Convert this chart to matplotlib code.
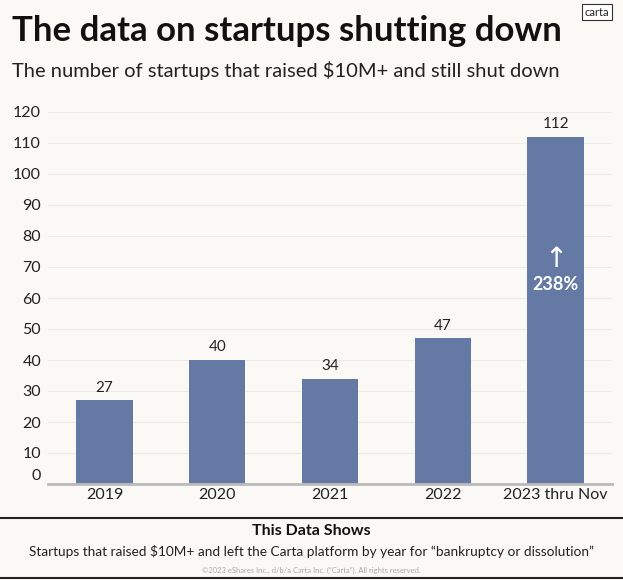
import matplotlib
matplotlib.use("Agg")
import matplotlib.pyplot as plt
from matplotlib.transforms import ScaledTranslation

categories = ["2019", "2020", "2021", "2022", "2023 thru Nov"]
values = [27, 40, 34, 47, 112]
yticks = [0, 10, 20, 30, 40, 50, 60, 70, 80, 90, 100, 110, 120]

title = "The data on startups shutting down"
subtitle = "The number of startups that raised $10M+ and still shut down"
footer_head = "This Data Shows"
footer_text = "Startups that raised $10M+ and left the Carta platform by year for \u201cbankruptcy or dissolution\u201d"
copyright_text = "\u00a92023 eShares Inc., d/b/a Carta Inc. (\u201cCarta\u201d). All rights reserved."
growth_label = "238%"

BG = "#FAF9F5"
BAR = "#6479A4"
FONT = ["Lato", "DejaVu Sans"]
plt.rcParams['font.family'] = FONT

W, H = 623, 580
fig = plt.figure(figsize=(W / 100, H / 100), dpi=100, facecolor=BG)

def fx(px):
    return px / W

def fy(py):
    return 1 - py / H

ax = fig.add_axes([fx(48), fy(484), fx(612) - fx(48), fy(112) - fy(484)])
ax.set_facecolor(BG)
x = list(range(len(categories)))
ax.bar(x, values, width=0.5, color=BAR, zorder=3)
ax.set_xlim(-0.5, len(categories) - 0.5)
ax.set_ylim(0, 120)
ax.set_yticks(yticks)
ax.set_yticklabels([str(t) for t in yticks], fontsize=11.5, color="#222222")
ax.set_xticks(x)
ax.set_xticklabels(categories, fontsize=11.5, color="#222222")
ax.tick_params(axis="both", length=0, pad=3)
ax.tick_params(axis="y", pad=5)
for s in ["top", "right", "left"]:
    ax.spines[s].set_visible(False)
ax.spines["bottom"].set_color("#BBBBBB")
ax.spines["bottom"].set_linewidth(2)
ax.spines["bottom"].set_zorder(4)
ax.grid(axis="y", color="#EEEBE4", linewidth=0.8, zorder=0)
ax.set_axisbelow(True)

lbl0 = ax.get_yticklabels()[0]
lbl0.set_transform(lbl0.get_transform() + ScaledTranslation(0, 9 / 100, fig.dpi_scale_trans))

for xi, v in zip(x, values):
    ax.annotate(str(v), (xi, v), xytext=(0, 4), textcoords="offset points",
                ha="center", va="bottom", fontsize=11, color="#222222")

ax.annotate("\u2191", (x[-1], 72.5), ha="center", va="center", fontsize=20,
            color="white", family=["DejaVu Sans"])
ax.annotate(growth_label, (x[-1], 64.5), ha="center", va="center", fontsize=13,
            color="white", fontweight="bold")

fig.text(fx(12), fy(31), title, fontsize=25, fontweight="bold", ha="left", va="center", color="#111111")
fig.text(fx(12), fy(70), subtitle, fontsize=14.5, ha="left", va="center", color="#222222")

fig.text(fx(597), fy(12), "carta", fontsize=8, ha="center", va="center", color="#222222",
         bbox=dict(boxstyle="square,pad=0.25", fc="white", ec="#333333", lw=0.8))

fig.add_artist(plt.Line2D([0, 1], [fy(518), fy(518)], color="#222222", lw=1.5))
fig.add_artist(plt.Line2D([0, 1], [fy(578), fy(578)], color="#222222", lw=1.5))

fig.text(0.5, fy(531), footer_head, fontsize=11.5, fontweight="bold", ha="center", va="center", color="#111111")
fig.text(0.5, fy(551), footer_text, fontsize=9.8, ha="center", va="center", color="#222222")
fig.text(0.5, fy(570), copyright_text, fontsize=5.5, ha="center", va="center", color="#AAAAAA")

fig.savefig("out.png", dpi=100, facecolor=BG)
